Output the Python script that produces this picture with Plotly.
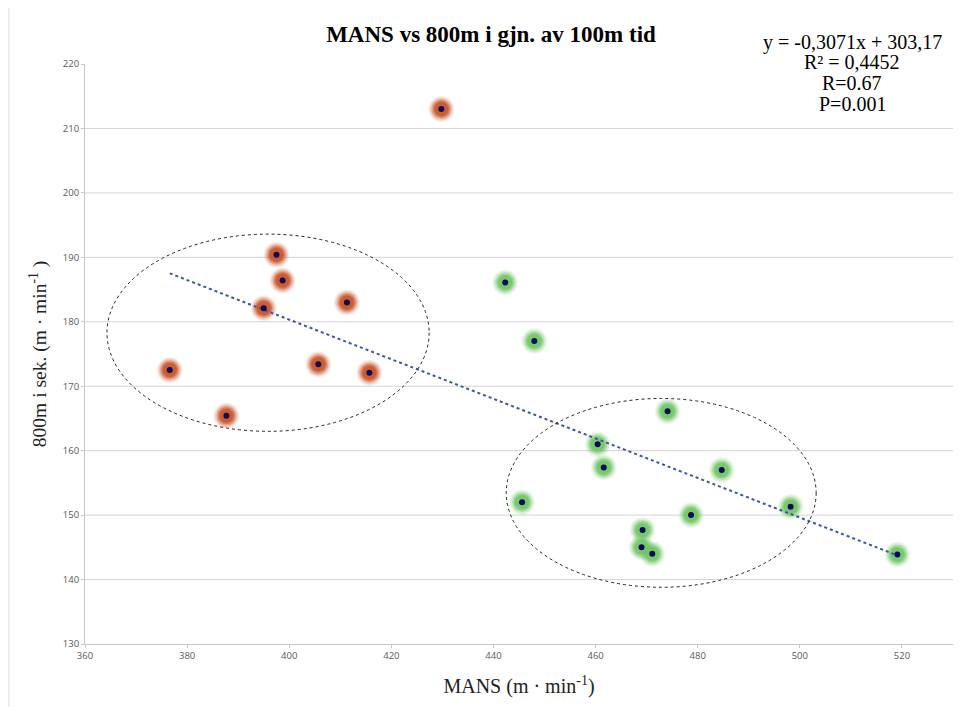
import plotly.graph_objects as go

# ---- data ----
group1_mans = [429.8, 397.5, 398.7, 395.0, 411.3, 405.7, 376.6, 415.7, 387.7]
group1_800m = [213.0, 190.4, 186.4, 182.1, 183.0, 173.4, 172.5, 172.1, 165.4]

group2_mans = [442.3, 448.0, 474.1, 460.4, 461.6, 484.7, 445.6, 478.7, 498.2, 469.2, 469.0, 471.1, 519.1]
group2_800m = [186.1, 177.0, 166.1, 161.0, 157.4, 157.0, 152.0, 150.0, 151.3, 147.7, 145.0, 144.0, 143.9]

trend_slope = -0.3071
trend_intercept = 303.17

x_ticks = [360, 380, 400, 420, 440, 460, 480, 500, 520]
y_ticks = [130, 140, 150, 160, 170, 180, 190, 200, 210, 220]

stats_lines = ["y = -0,3071x + 303,17", "R² = 0,4452", "R=0.67", "P=0.001"]

# ---- figure ----
fig = go.Figure()

def glow(xs, ys, rgb):
    layers = [(26, 0.10), (23, 0.2), (20, 0.32), (17, 0.5), (14, 0.75)]
    for size, op in layers:
        fig.add_trace(go.Scatter(
            x=xs, y=ys, mode="markers", hoverinfo="skip", showlegend=False,
            marker=dict(size=size, color=f"rgba({rgb},{op})", line=dict(width=0)),
        ))

glow(group1_mans, group1_800m, "200,82,36")
glow(group2_mans, group2_800m, "112,196,100")

# trend line
all_x = group1_mans + group2_mans
tx = [min(all_x), max(all_x)]
ty = [trend_slope * v + trend_intercept for v in tx]
fig.add_trace(go.Scatter(
    x=tx, y=ty, mode="lines", showlegend=False, hoverinfo="skip",
    line=dict(color="#3A56A8", width=2, dash="dot"),
))

# centre dots
fig.add_trace(go.Scatter(
    x=group1_mans + group2_mans, y=group1_800m + group2_800m, mode="markers",
    showlegend=False, marker=dict(size=6, color="#0A0A5A", line=dict(width=0)),
))

shapes = []
# gridlines (excluding the axis ends)
for v in y_ticks[1:-1]:
    shapes.append(dict(type="line", xref="paper", yref="y", x0=0, x1=1, y0=v, y1=v,
                       line=dict(color="#D4D4D4", width=1), layer="below"))
# ellipses
shapes.append(dict(type="circle", xref="x", yref="y", x0=364.3, x1=427.4, y0=163.0, y1=193.6,
                   line=dict(color="#222222", width=1, dash="dot")))
shapes.append(dict(type="circle", xref="x", yref="y", x0=442.5, x1=503.2, y0=138.8, y1=168.1,
                   line=dict(color="#222222", width=1, dash="dot")))
# left border
shapes.append(dict(type="line", xref="paper", yref="paper", x0=-0.0876, x1=-0.0876, y0=-0.2, y1=1.2,
                   line=dict(color="#DDDDDD", width=1)))

# page body has an 8px margin, so offsets are compensated here
annotations = []
line_centres = [42, 62, 83, 104]
for txt, yc in zip(stats_lines, line_centres):
    annotations.append(dict(text=txt, xref="paper", yref="paper",
                            x=(852 - 85) / 868, y=1 + (64 - yc) / 580,
                            xanchor="center", yanchor="middle", showarrow=False,
                            font=dict(family="Liberation Serif", size=20, color="black")))

fig.update_layout(
    width=961, height=707,
    margin=dict(l=77, r=16, t=56, b=71),
    paper_bgcolor="white", plot_bgcolor="white",
    shapes=shapes,
    annotations=annotations,
    title=dict(text="<b>MANS vs 800m i gjn. av 100m tid</b>", x=483 / 961, xref="container",
               y=1 - 26 / 707, yref="container", yanchor="middle", xanchor="center",
               font=dict(family="Liberation Serif", size=23, color="black")),
    xaxis=dict(range=[360, 530], tickvals=x_ticks, ticktext=[str(v) for v in x_ticks],
               showgrid=False, zeroline=False, showline=True, linecolor="#C8C8C8", linewidth=1,
               ticks="outside", ticklen=3, tickcolor="#C8C8C8",
               tickfont=dict(family="Open Sans", size=9.5, color="#595959"),
               title=dict(text="MANS (m · min<sup>-1</sup>)", standoff=17,
                          font=dict(family="Liberation Serif", size=20, color="#222222"))),
    yaxis=dict(range=[130, 220], tickvals=y_ticks, ticktext=[str(v) for v in y_ticks],
               showgrid=False, zeroline=False, showline=True, linecolor="#C8C8C8", linewidth=1,
               ticks="outside", ticklen=3, tickcolor="#C8C8C8",
               tickfont=dict(family="Open Sans", size=9.5, color="#595959"),
               title=dict(text="800m i sek. (m · min<sup>-1</sup> )", standoff=10,
                          font=dict(family="Liberation Serif", size=19.5, color="#222222"))),
)

fig.write_html("out.html")
